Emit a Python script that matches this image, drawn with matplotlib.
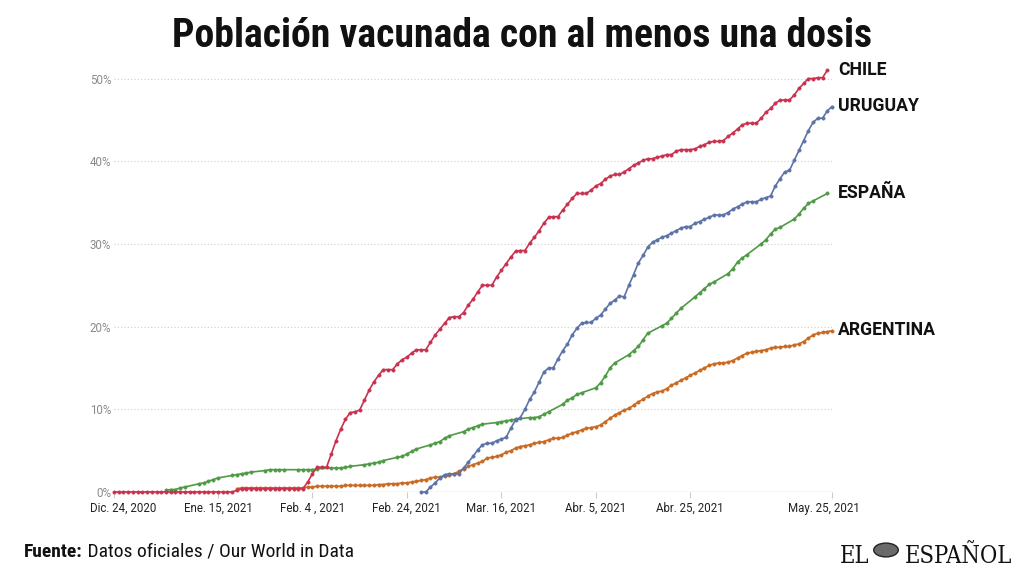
import matplotlib
matplotlib.use("Agg")
import matplotlib.pyplot as plt
import matplotlib.font_manager as fm
from matplotlib.transforms import ScaledTranslation
from matplotlib.patches import Circle
import pandas as pd

# ---------------- data (percent of population with at least one dose) ----------------
chile_start = "2020-12-24"
chile = [0.0] * 26 + [0.2] + [0.4] * 14 + [
    1.2, 2.2, 3.0, 3.0, 3.0, 4.6, 6.2, 7.6, 8.8, 9.6, 9.7, 9.9, 11.1, 12.3, 13.3, 14.1,
    14.8, 14.8, 14.8, 15.5, 16.0, 16.3, 16.8, 17.2, 17.2, 17.2, 18.1, 19.0, 19.7, 20.4,
    21.1, 21.2, 21.2, 21.7, 22.6, 23.3, 24.2, 25.0, 25.0, 25.0, 26.0, 26.8, 27.6, 28.4,
    29.1, 29.2, 29.2, 30.1, 30.8, 31.6, 32.5, 33.2, 33.3, 33.3, 34.1, 34.8, 35.5, 36.1,
    36.1, 36.1, 36.5, 37.0, 37.3, 37.8, 38.2, 38.4, 38.4, 38.7, 39.1, 39.5, 39.8, 40.1,
    40.3, 40.3, 40.5, 40.6, 40.8, 40.8, 41.2, 41.4, 41.4, 41.4, 41.5, 41.8, 42.0, 42.3,
    42.4, 42.4, 42.5, 43.0, 43.4, 43.9, 44.4, 44.6, 44.6, 44.6, 45.2, 45.9, 46.4, 47.0,
    47.4, 47.4, 47.4, 48.0, 48.8, 49.4, 50.0, 50.0, 50.1, 50.1, 51.0]

uruguay_start = "2021-02-27"
uruguay = [
    0.0, 0.0, 0.6, 1.1, 1.7, 2.1, 2.2, 2.2, 2.2, 2.9, 3.6, 4.3, 5.1, 5.7, 5.9, 5.9,
    6.2, 6.4, 6.6, 7.7, 8.7, 9.0, 10.0, 11.2, 12.1, 13.3, 14.5, 15.0, 15.0, 16.1, 17.1,
    17.9, 19.0, 19.8, 20.4, 20.5, 20.5, 21.0, 21.4, 22.1, 22.8, 23.2, 23.7, 23.6, 25.0,
    26.3, 27.7, 28.6, 29.6, 30.2, 30.5, 30.8, 31.0, 31.3, 31.6, 31.9, 32.1, 32.1, 32.5,
    32.7, 33.0, 33.2, 33.5, 33.5, 33.5, 33.8, 34.2, 34.5, 34.8, 35.1, 35.1, 35.1, 35.4,
    35.6, 35.8, 37.0, 37.9, 38.7, 38.9, 40.1, 41.3, 42.5, 43.7, 44.7, 45.2, 45.2, 46.1,
    46.6]

argentina_start = "2021-01-19"
argentina = [0.4] + [0.5] * 14 + [0.6, 0.6] + [0.7] * 6 + [0.8] * 7 + [
    0.9, 0.9, 1.0, 1.0, 1.0, 1.1, 1.1, 1.2, 1.3, 1.4, 1.5, 1.7, 1.8, 1.8, 1.9, 2.0,
    2.2, 2.5, 2.8, 3.1, 3.3, 3.5, 3.7, 4.1, 4.2, 4.3, 4.5, 4.8, 5.0, 5.3, 5.5, 5.6,
    5.7, 5.9, 6.0, 6.1, 6.3, 6.5, 6.5, 6.6, 6.9, 7.1, 7.3, 7.5, 7.7, 7.8, 7.9, 8.1,
    8.5, 8.9, 9.3, 9.6, 9.9, 10.1, 10.5, 10.9, 11.2, 11.6, 11.9, 12.1, 12.2, 12.5,
    12.9, 13.2, 13.5, 13.8, 14.1, 14.4, 14.7, 15.0, 15.3, 15.5, 15.6, 15.6, 15.7,
    15.9, 16.2, 16.5, 16.8, 16.9, 17.0, 17.1, 17.2, 17.4, 17.5, 17.5, 17.6, 17.6,
    17.8, 17.9, 18.2, 18.6, 19.0, 19.2, 19.3, 19.4, 19.5]

# Spain reports on weekdays only: day offsets from Dec. 24, 2020
espana_days = [11, 12, 13, 14, 15, 18, 19, 20, 21, 22, 25, 26, 27, 28, 29, 32, 33, 34, 35,
               36, 39, 40, 41, 42, 43, 46, 47, 48, 49, 50, 53, 54, 55, 56, 57, 60, 61, 62,
               63, 64, 67, 68, 69, 70, 71, 74, 75, 76, 77, 78, 81, 82, 83, 84, 85, 88, 89,
               90, 91, 92, 95, 96, 97, 98, 99, 102, 103, 104, 105, 106, 109, 110, 111, 112,
               113, 116, 117, 118, 119, 120, 123, 124, 125, 126, 127, 130, 131, 132, 133,
               134, 137, 138, 139, 140, 141, 144, 145, 146, 147, 148, 151]
espana = [0.2, 0.3, 0.3, 0.5, 0.6, 1.0, 1.1, 1.3, 1.5, 1.7, 2.0, 2.1, 2.2, 2.3, 2.4, 2.6,
          2.7, 2.7, 2.7, 2.7, 2.7, 2.7, 2.7, 2.7, 2.8, 2.9, 2.9, 2.9, 3.0, 3.1, 3.3, 3.4,
          3.5, 3.6, 3.8, 4.2, 4.3, 4.6, 4.9, 5.2, 5.7, 5.9, 6.1, 6.5, 6.8, 7.3, 7.6, 7.8,
          8.0, 8.2, 8.4, 8.5, 8.6, 8.7, 8.8, 9.0, 9.0, 9.1, 9.4, 9.7, 10.6, 11.1, 11.4,
          11.8, 12.0, 12.6, 13.2, 14.0, 15.0, 15.6, 16.6, 17.1, 17.6, 18.4, 19.2, 20.1,
          20.4, 21.0, 21.6, 22.2, 23.6, 24.1, 24.6, 25.1, 25.4, 26.4, 27.0, 27.8, 28.3,
          28.7, 30.0, 30.5, 31.2, 31.8, 32.0, 33.0, 33.6, 34.3, 34.9, 35.2, 36.1]

series_names = ["CHILE", "URUGUAY", "ESPAÑA", "ARGENTINA"]
series_colors = ["#c8324e", "#5b73a6", "#4e9a45", "#c96a22"]

x_range = ["2020-12-24", "2021-05-25"]
tick_dates = ["2020-12-24", "2021-01-15", "2021-02-04", "2021-02-24",
              "2021-03-16", "2021-04-05", "2021-04-25", "2021-05-25"]
tick_labels = ["Dic. 24, 2020", "Ene. 15, 2021", "Feb. 4 , 2021", "Feb. 24, 2021",
               "Mar. 16, 2021", "Abr. 5, 2021", "Abr. 25, 2021", "May. 25, 2021"]
y_ticks = [0, 10, 20, 30, 40, 50]
y_tick_labels = ["0%", "10%", "20%", "30%", "40%", "50%"]

title = "Población vacunada con al menos una dosis"
source_bold = "Fuente:"
source_rest = "Datos oficiales / Our World in Data"

# ---------------- fonts ----------------
def _w(f):
    w = f.weight
    if isinstance(w, str):
        w = {"bold": 700, "normal": 400, "regular": 400, "book": 400,
             "medium": 500, "light": 300}.get(w.lower(), 400)
    return w

def find_font(cands, bold, default_family):
    for fam, need_cond in cands:
        for f in fm.fontManager.ttflist:
            if f.name != fam or f.style != "normal":
                continue
            w = _w(f)
            if bold and w < 600:
                continue
            if not bold and not (350 <= w <= 450):
                continue
            if need_cond and f.stretch not in ("condensed", "semi-condensed", "extra-condensed"):
                continue
            return fm.FontProperties(fname=f.fname)
    return fm.FontProperties(family=default_family, weight="bold" if bold else "normal")

cond_cands = [("Roboto Condensed", False), ("Liberation Sans Narrow", False),
              ("Open Sans Condensed", False), ("Noto Sans", True), ("Open Sans", True),
              ("DejaVu Sans", True)]
cond_bold = find_font(cond_cands, True, "Roboto")
cond_reg = find_font(cond_cands, False, "Roboto")
serif_fp = find_font([("DejaVu Serif", True), ("Liberation Serif", False)], False, "DejaVu Serif")

plt.rcParams["font.family"] = ["Roboto", "DejaVu Sans"]

# ---------------- figure ----------------
W, H = 1024, 576
fig = plt.figure(figsize=(W / 100, H / 100), dpi=100)
fig.patch.set_facecolor("white")
ax = fig.add_axes([114 / W, (H - 492) / H, (832 - 114) / W, (492 - 62) / H])

def dates_from(start, n):
    return pd.date_range(start, periods=n, freq="D")

base = pd.Timestamp(chile_start)
esp_dates = [base + pd.Timedelta(days=d) for d in espana_days]

all_series = [
    (dates_from(chile_start, len(chile)), chile),
    (dates_from(uruguay_start, len(uruguay)), uruguay),
    (esp_dates, espana),
    (dates_from(argentina_start, len(argentina)), argentina),
]
zorders = [5, 4, 3, 2]
for (xs, ys), col, z in zip(all_series, series_colors, zorders):
    ax.plot(xs, ys, color=col, lw=1.2, marker="o", markersize=2.4,
            markerfacecolor=col, markeredgecolor=col, markeredgewidth=0.4,
            zorder=z, clip_on=False)

ax.set_xlim(pd.Timestamp(x_range[0]), pd.Timestamp(x_range[1]))
ax.set_ylim(0, 52)

for s in ["top", "right", "left", "bottom"]:
    ax.spines[s].set_visible(False)

for yv in y_ticks[1:]:
    ax.axhline(yv, color="#cfcfcf", lw=0.8, ls=(0, (1, 2)), zorder=0)
ax.axhline(0, color="#c9d2dc", lw=1.0, zorder=1)

ax.set_yticks(y_ticks)
ax.set_yticklabels(y_tick_labels)
ax.tick_params(axis="y", length=0, pad=2, labelsize=8.3, labelcolor="#8a8a8a")

ax.set_xticks([pd.Timestamp(d) for d in tick_dates])
ax.set_xticklabels(tick_labels)
ax.tick_params(axis="x", length=4, width=0.8, color="#cccccc", pad=3,
               labelsize=8.3, labelcolor="#222222")
xl = ax.get_xticklabels()
xl[0].set_transform(xl[0].get_transform() + ScaledTranslation(0.09, 0, fig.dpi_scale_trans))
xl[-1].set_transform(xl[-1].get_transform() + ScaledTranslation(-0.08, 0, fig.dpi_scale_trans))

# end labels
for name, (xs, ys) in zip(series_names, all_series):
    ax.annotate(name, xy=(1, ys[-1]), xycoords=ax.get_yaxis_transform(),
                xytext=(4.5, 0.5), textcoords="offset points", ha="left", va="center",
                fontsize=12.7, fontweight="bold", color="#111111", annotation_clip=False)

renderer = fig.canvas.get_renderer()

def fit_width(t, target_px):
    bb = t.get_window_extent(renderer)
    t.set_fontsize(t.get_fontsize() * target_px / bb.width)

# title
tfp = cond_bold.copy()
tfp.set_size(28)
t = fig.text(522 / W, 1 - 36 / H, title, ha="center", va="center",
             fontproperties=tfp, color="#111111")
fit_width(t, 700)

# source (shared baseline)
base_y = 1 - 557 / H
sfp_b = cond_bold.copy(); sfp_b.set_size(11)
sfp_r = cond_reg.copy(); sfp_r.set_size(11)
t1 = fig.text(24 / W, base_y, source_bold, ha="left", va="baseline",
              fontproperties=sfp_b, color="#111111")
t2 = fig.text(0, base_y, " " + source_rest, ha="left", va="baseline",
              fontproperties=sfp_r, color="#111111")
w1 = t1.get_window_extent(renderer).width
w2 = t2.get_window_extent(renderer).width
scale = (352 - 24) / (w1 + w2)
t1.set_fontsize(t1.get_fontsize() * scale)
t2.set_fontsize(t2.get_fontsize() * scale)
w1 = t1.get_window_extent(renderer).width
t2.set_x((24 + w1) / W)

# logo
lfp = serif_fp.copy(); lfp.set_size(20)
logo_base = 1 - 563 / H
e1 = fig.text(840 / W, logo_base, "EL", ha="left", va="baseline",
              fontproperties=lfp, color="#111111")
e2 = fig.text(1012 / W, logo_base, "ESPAÑOL", ha="right", va="baseline",
              fontproperties=lfp.copy(), color="#111111")
fit_width(e2, 108)
e1.set_fontsize(e2.get_fontsize())
fig.patches.append(Circle((886 / W, 1 - 550 / H), 0.012, transform=fig.transFigure,
                          facecolor="#6a6a6a", edgecolor="#222222", lw=1.0))

fig.savefig("out.png", dpi=100, facecolor="white")
